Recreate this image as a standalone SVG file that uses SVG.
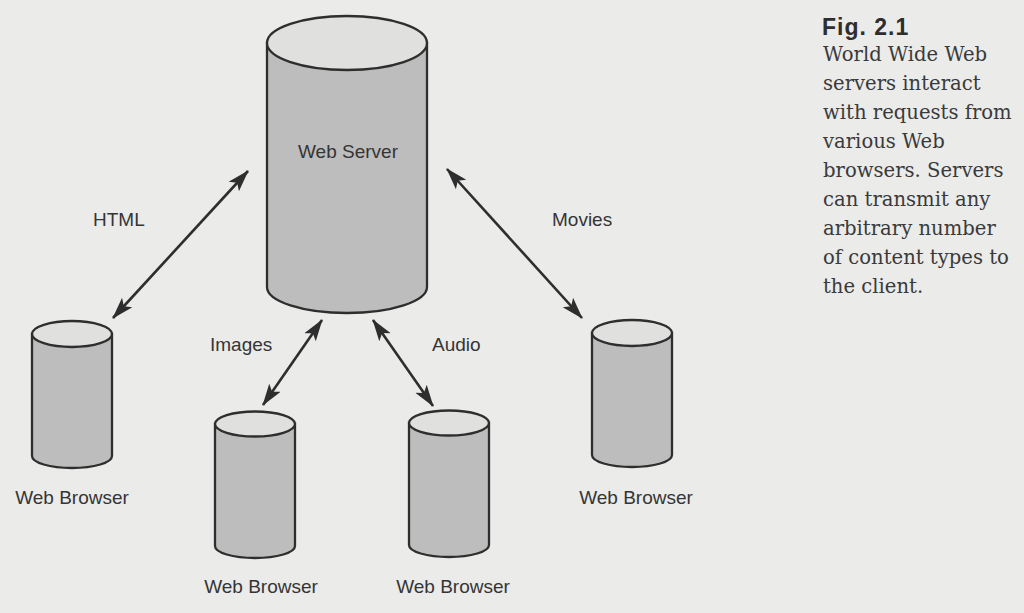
<svg xmlns="http://www.w3.org/2000/svg" width="1024" height="613" viewBox="0 0 1024 613">
<defs>
<style>
.body{fill:#bdbdbd;stroke:#2e2e2e;stroke-width:2.3}
.top{fill:#e0e0de;stroke:#2e2e2e;stroke-width:2.3}
.lbl{font-family:"Liberation Sans",Arial,sans-serif;font-size:19px;fill:#353535}
.conn{stroke:#2e2e2e;stroke-width:2.6;fill:none;marker-start:url(#ah);marker-end:url(#ah)}
.cap{font-family:"DejaVu Serif","Liberation Serif",serif;font-size:19.6px;fill:#3a3a3a}
.fig{font-family:"Liberation Sans",Arial,sans-serif;font-size:23px;font-weight:bold;fill:#2e2e2e;letter-spacing:1px}
</style>
<marker id="ah" markerUnits="userSpaceOnUse" markerWidth="22" markerHeight="16" viewBox="0 0 22 16" refX="21" refY="8" orient="auto-start-reverse">
<path d="M0,1 L22,8 L0,15 L5,8 Z" fill="#2e2e2e"/>
</marker>
</defs>
<rect width="1024" height="613" fill="#ebebea"/>

<g id="connectors">
<line class="conn" x1="113" y1="318" x2="248" y2="171"/>
<line class="conn" x1="447" y1="169" x2="582" y2="318"/>
<line class="conn" x1="322" y1="320" x2="263" y2="405"/>
<line class="conn" x1="373" y1="320" x2="433" y2="406"/>
</g>

<g id="web-server">
<path class="body" d="M267,43 L267,287 A80,26 0 0 0 427,287 L427,43 Z"/>
<ellipse class="top" cx="347" cy="43" rx="80" ry="27"/>
<text class="lbl" x="348" y="158" text-anchor="middle">Web Server</text>
</g>

<g id="browser-left">
<path class="body" d="M32,334 L32,456 A40,12 0 0 0 112,456 L112,334 Z"/>
<ellipse class="top" cx="72" cy="334" rx="40" ry="13"/>
<text class="lbl" x="72" y="504" text-anchor="middle">Web Browser</text>
</g>

<g id="browser-bottom-left">
<path class="body" d="M215,424 L215,546 A40,12 0 0 0 295,546 L295,424 Z"/>
<ellipse class="top" cx="255" cy="424" rx="40" ry="12.5"/>
<text class="lbl" x="261" y="593" text-anchor="middle">Web Browser</text>
</g>

<g id="browser-bottom-right">
<path class="body" d="M409,423 L409,545 A40,12 0 0 0 489,545 L489,423 Z"/>
<ellipse class="top" cx="449" cy="423" rx="40" ry="12.5"/>
<text class="lbl" x="453" y="593" text-anchor="middle">Web Browser</text>
</g>

<g id="browser-right">
<path class="body" d="M592,333 L592,455 A40,12 0 0 0 672,455 L672,333 Z"/>
<ellipse class="top" cx="632" cy="333" rx="40" ry="13"/>
<text class="lbl" x="636" y="504" text-anchor="middle">Web Browser</text>
</g>

<g id="labels">
<text class="lbl" x="93" y="226">HTML</text>
<text class="lbl" x="552" y="226">Movies</text>
<text class="lbl" x="210" y="351">Images</text>
<text class="lbl" x="432" y="351">Audio</text>
</g>

<g id="caption">
<text class="fig" x="822" y="35">Fig. 2.1</text>
<text class="cap" x="823" y="61">World Wide Web</text>
<text class="cap" x="823" y="90">servers interact</text>
<text class="cap" x="823" y="119">with requests from</text>
<text class="cap" x="823" y="148">various Web</text>
<text class="cap" x="823" y="177">browsers. Servers</text>
<text class="cap" x="823" y="206">can transmit any</text>
<text class="cap" x="823" y="235">arbitrary number</text>
<text class="cap" x="823" y="264">of content types to</text>
<text class="cap" x="823" y="293">the client.</text>
</g>
</svg>
